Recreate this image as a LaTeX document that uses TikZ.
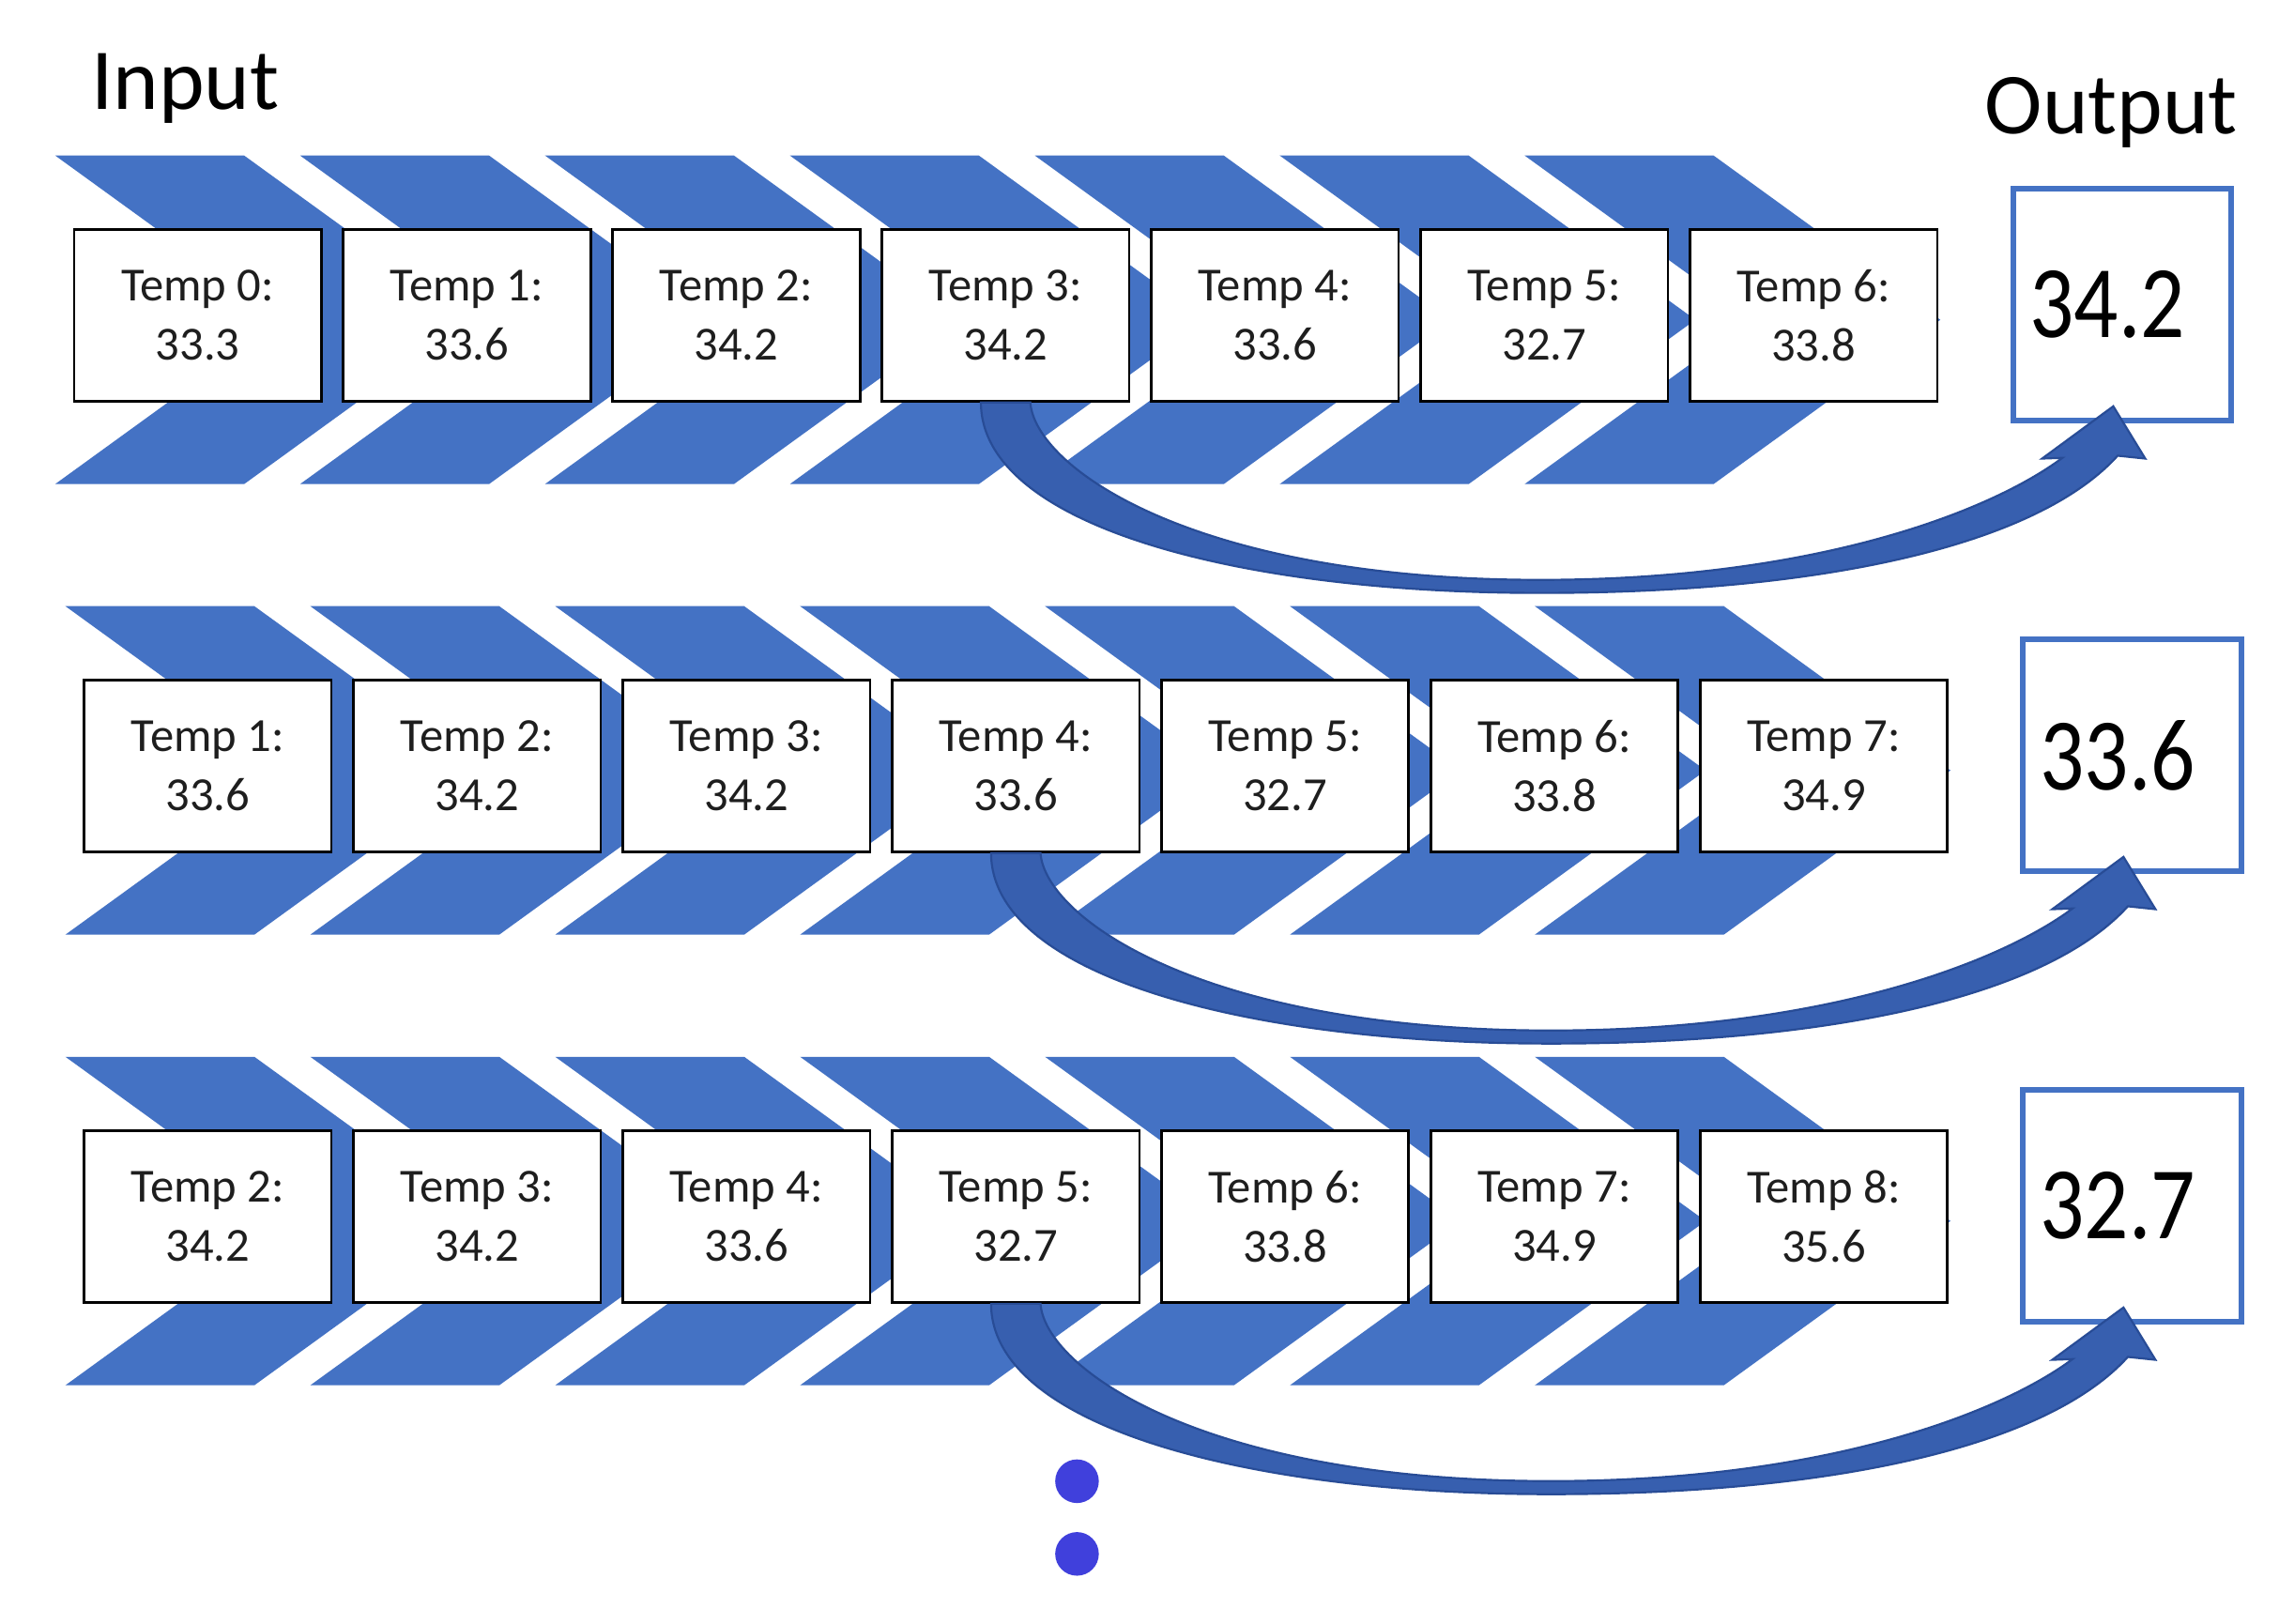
\documentclass[tikz,border=0pt]{standalone}
\usepackage{fontspec}
\setmainfont{Carlito}
\usetikzlibrary{calc}
\definecolor{chev}{RGB}{68,114,196}
\definecolor{arr}{RGB}{55,95,175}
\definecolor{arrd}{RGB}{40,76,150}
\definecolor{dotc}{RGB}{64,64,220}
\definecolor{txt}{RGB}{30,30,30}
\begin{document}
\begin{tikzpicture}[x=0.01cm,y=-0.01cm,
  chevron/.style={fill=chev},
  tempbox/.style={draw=black, line width=0.5pt, fill=white, minimum width=1.7cm, minimum height=1.18cm, inner sep=0pt, align=center, font=\fontsize{9.3}{11.6}\selectfont, text=txt},
  outbox/.style={draw=chev, line width=1.1pt, fill=white, minimum width=1.5cm, minimum height=1.59cm, inner sep=0pt, font=\fontsize{17.5}{20}\selectfont},
  titlelabel/.style={anchor=base west, inner sep=0pt, font=\fontsize{17}{20}\selectfont},
  curvearrow/.style={fill=arr, draw=arrd, line width=0.4pt},
  ellipsisdot/.style={fill=dotc, draw=none}
]
\useasboundingbox (0,0) rectangle (1568,1117);
\fill[white] (0,0) rectangle (1568,1117);

\node[titlelabel] (input) at (62,75) {Input};
\node[titlelabel] (output) at (1365,92) {Output};

\foreach \r/\dx/\ov in {0/0/34.2, 1/7/33.6, 2/7/32.7} {
  \begin{scope}[shift={(\dx,{310*\r})}]
    \foreach \i in {0,...,6} {
      \fill[chevron] ({38+168.5*\i},107) -- ++(130,0) -- ++(156,113) -- ++(-156,113) -- ++(-130,0) -- ++(156,-113) -- cycle;
    }
    \foreach \k in {0,...,6} {
      \pgfmathtruncatemacro\n{\r+\k}
      \pgfmathparse{{"33.3","33.6","34.2","34.2","33.6","32.7","33.8","34.9","35.6"}[\n]}
      \let\v\pgfmathresult
      \node[tempbox] (b\r-\k) at ({136+185.3*\k},217) {Temp \n:\\\v};
    }
    \node[outbox] (o\r) at (1460,209.5) {\scalebox{0.98}[1.15]{\ov}\rule{0.2cm}{0pt}};
  \end{scope}
  \coordinate (s) at (b\r-3.south);
  \coordinate (e) at (o\r.south);
  \fill[curvearrow] ($(s)+(-17,0)$)
     .. controls ($(s)+(-17,84)$) and ($(s)+(158,131)$) .. ($(s)+(368,131)$)
     .. controls ($(s)+(558,131)$) and ($(e)+(-60,85.5)$) .. ($(e)+(-3,22.5)$)
     -- ($(e)+(16,24.5)$) -- ($(e)+(-6,-11.5)$) -- ($(e)+(-55,24.5)$) -- ($(e)+(-41,24)$)
     .. controls ($(e)+(-90,60.5)$) and ($(s)+(558,122)$) .. ($(s)+(368,122)$)
     .. controls ($(s)+(128,122)$) and ($(s)+(20,44)$) .. ($(s)+(17,0)$) -- cycle;
}

\fill[ellipsisdot] (741,1019) circle (15);
\fill[ellipsisdot] (741,1069) circle (15);
\end{tikzpicture}
\end{document}
